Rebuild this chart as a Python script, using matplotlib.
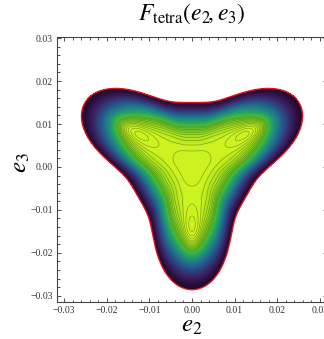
import numpy as np
import matplotlib
matplotlib.use("Agg")
import matplotlib.pyplot as plt
from matplotlib.colors import LinearSegmentedColormap, Normalize

# ---------------- data ----------------
boundary_angles_deg = np.arange(0, 360, 15)
boundary_radii = [0.0185, 0.0253, 0.0290, 0.0253, 0.0185, 0.0152,
                  0.0146, 0.0152, 0.0185, 0.0253, 0.0290, 0.0253,
                  0.0185, 0.0152, 0.0146, 0.0152, 0.0185, 0.0253,
                  0.0290, 0.0253, 0.0185, 0.0152, 0.0146, 0.0152]
shape_center = [0.0, 0.0004]
lobe_angles_deg = [30, 150, 270]
island_distance = 0.0170
triangle_vertex_distance = 0.0049

xticks = [-0.03, -0.02, -0.01, 0.00, 0.01, 0.02, 0.03]
xtick_labels = ["\u22120.03", "\u22120.02", "\u22120.01", "0.00", "0.01", "0.02", "0.03"]
yticks = [-0.03, -0.02, -0.01, 0.00, 0.01, 0.02, 0.03]
ytick_labels = ["\u22120.03", "\u22120.02", "\u22120.01", "0.00", "0.01", "0.02", "0.03"]

cmap_stops = [0.0, 0.20, 0.37, 0.555, 0.71, 0.78, 0.84, 0.91, 0.96, 1.0]
cmap_colors = ["#1a0620", "#2b0f40", "#3a2262", "#27508a", "#1f8586",
               "#25a063", "#3dbb3a", "#7ad424", "#b0e61c", "#cff320"]

plt.rcParams["mathtext.fontset"] = "stix"
plt.rcParams["font.family"] = ["Liberation Serif", "DejaVu Serif"]

# ---------------- boundary by trigonometric interpolation ----------------
N = len(boundary_radii)
coef = np.fft.rfft(np.asarray(boundary_radii)) / N


def R_of(theta):
    out = np.full_like(theta, coef[0].real, dtype=float)
    for k in range(1, N // 2):
        out += 2 * (coef[k].real * np.cos(k * theta) - coef[k].imag * np.sin(k * theta))
    out += coef[N // 2].real * np.cos(N // 2 * theta)
    return out


cx, cy = shape_center


def field(X, Y):
    DX, DY = X - cx, Y - cy
    r = np.hypot(DX, DY)
    th = np.arctan2(DY, DX)
    rho = r / R_of(th)
    base = 0.95 * np.clip(1 - rho ** 4, 0, None)
    isl = np.zeros_like(r)
    for a in np.radians(lobe_angles_deg):
        ux, uy = np.cos(a), np.sin(a)
        s = DX * ux + DY * uy
        t = -DX * uy + DY * ux
        isl += np.exp(-((s - island_distance) ** 2 / (2 * 0.00427 ** 2)
                        + t ** 2 / (2 * 0.0019 ** 2)))
    sig = 0.0041 * (1 + 0.11 * np.sin(3 * th))
    cen = np.exp(-0.5 * (r / sig) ** 4)
    F = base + 0.11 * isl + 0.018 * cen
    return np.where(rho <= 1.0, F, np.nan)


xs = np.linspace(-0.0325, 0.0325, 560)
ys = np.linspace(-0.0325, 0.0325, 560)
X, Y = np.meshgrid(xs, ys)
F = field(X, Y)
T = float(field(np.array([cx]), np.array([cy - triangle_vertex_distance]))[0])

cmap = LinearSegmentedColormap.from_list("tetra", list(zip(cmap_stops, cmap_colors)))

fig = plt.figure(figsize=(3.24, 3.39), dpi=100)
W, H = 324, 339
left_px, right_px, top_px, bot_px = 57, 327, 37.3, 302
ax = fig.add_axes([left_px / W, 1 - bot_px / H, (right_px - left_px) / W, (bot_px - top_px) / H])

Fn = np.minimum(F / T, 1.0)
ax.contourf(X, Y, Fn, levels=np.linspace(0, 1.0, 90), cmap=cmap, norm=Normalize(0, 1.0))
step = 0.016
line_levels = T + step * np.arange(-9, 2)
ax.contour(X, Y, F, levels=line_levels, colors="#5e7d16", linewidths=0.5, alpha=0.65)

tb = np.linspace(0, 2 * np.pi, 1000)
Rb = R_of(tb)
ax.plot(cx + Rb * np.cos(tb), cy + Rb * np.sin(tb), color="#e3121c", lw=1.0)

ax.set_xlim(-0.03164, 0.03164)
ax.set_ylim(-0.03147, 0.0302)
ax.set_xticks(xticks)
ax.set_xticklabels(xtick_labels)
ax.set_yticks(yticks)
ax.set_yticklabels(ytick_labels)
ax.set_xticks(np.arange(-0.03, 0.0301, 0.002), minor=True)
ax.set_yticks(np.arange(-0.03, 0.0301, 0.002), minor=True)
ax.tick_params(which="both", direction="in", top=True, right=True, colors="#333333",
               labelsize=7, width=0.6, pad=3)
ax.tick_params(which="major", length=3.2)
ax.tick_params(which="minor", length=1.8)
for sp in ax.spines.values():
    sp.set_color("#444444")
    sp.set_linewidth(0.8)

fig.text(192 / W, 1 - 326 / H, r"$e_2$", fontsize=18, ha="center", va="center")
fig.text(21 / W, 1 - 163 / H, r"$e_3$", fontsize=18, ha="center", va="center", rotation=90)
fig.text(192 / W, 1 - 14 / H, r"$F_{\mathrm{tetra}}(e_2\!,e_3)$", fontsize=17,
         ha="center", va="center")

fig.savefig("out.png", dpi=100)
